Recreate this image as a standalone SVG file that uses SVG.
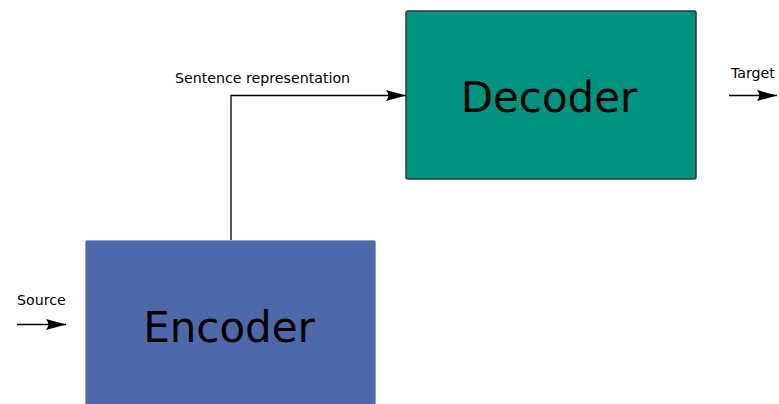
<svg xmlns="http://www.w3.org/2000/svg" width="779" height="404" viewBox="0 0 779 404">
  <style>
    .lbl { font-family: "DejaVu Sans", sans-serif; font-size: 14.2px; fill: #000; }
    .big { font-family: "DejaVu Sans", sans-serif; font-size: 42px; fill: #000; text-anchor: middle; }
    .wire { fill: none; stroke: #000; stroke-width: 1.3; }
  </style>
  <defs>
    <marker id="arrow" markerUnits="userSpaceOnUse" markerWidth="22" markerHeight="14" viewBox="0 0 22 14" refX="20" refY="7" orient="auto">
      <path d="M0,1.5 L20,7 L0,12.5 Q4.5,7 0,1.5 Z" fill="#000"/>
    </marker>
  </defs>
  <rect width="779" height="404" fill="#fff"/>

  <g id="encoder">
    <rect x="85.5" y="240.5" width="290" height="180" rx="1.5" fill="#4e69aa" stroke="#8fa0c8" stroke-width="1"/>
    <text class="big" x="229" y="342">Encoder</text>
  </g>

  <g id="decoder">
    <rect x="406" y="11" width="290" height="168" rx="2" fill="#009480" stroke="#2d3b38" stroke-width="1.5"/>
    <text class="big" x="549" y="112">Decoder</text>
  </g>

  <g id="connectors">
    <path class="wire" d="M17,324.5 H66" marker-end="url(#arrow)"/>
    <path class="wire" d="M231,240 V95.5 H406" marker-end="url(#arrow)"/>
    <path class="wire" d="M729,95.5 H777" marker-end="url(#arrow)"/>
  </g>

  <g id="labels">
    <text class="lbl" x="17" y="305">Source</text>
    <text class="lbl" x="175" y="83">Sentence representation</text>
    <text class="lbl" x="731" y="78">Target</text>
  </g>
</svg>
